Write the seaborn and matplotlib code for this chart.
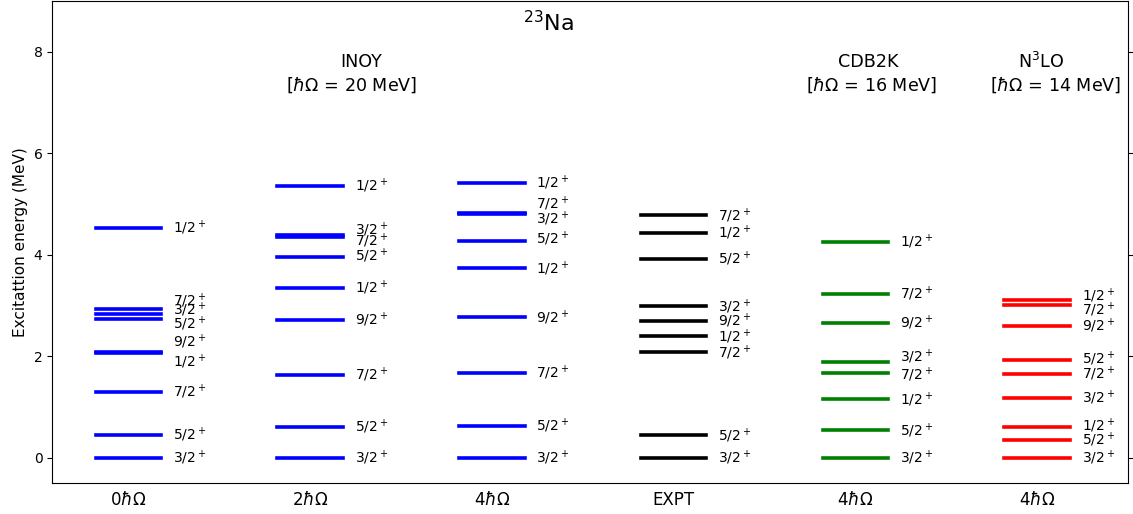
import matplotlib
matplotlib.use("Agg")
import matplotlib.pyplot as plt
import numpy as np
import pandas as pd
import seaborn as sns

# Column tick labels (bottom axis)
columns = [r"$0\hbar\Omega$", r"$2\hbar\Omega$", r"$4\hbar\Omega$", "EXPT",
           r"$4\hbar\Omega$", r"$4\hbar\Omega$"]
# Interaction used for each column (sets the colour)
interaction = ["INOY", "INOY", "INOY", "EXPT", "CDB2K", "N3LO"]

# Excitation energies (MeV) and spins for every column
e_inoy_0 = [0.00, 0.45, 1.29, 2.07, 2.08, 2.74, 2.83, 2.93, 4.53]
j_inoy_0 = ["3/2", "5/2", "7/2", "1/2", "9/2", "5/2", "3/2", "7/2", "1/2"]

e_inoy_2 = [0.00, 0.605, 1.635, 2.71, 3.35, 3.96, 4.36, 4.38, 5.36]
j_inoy_2 = ["3/2", "5/2", "7/2", "9/2", "1/2", "5/2", "7/2", "3/2", "1/2"]

e_inoy_4 = [0.00, 0.62, 1.68, 2.765, 3.73, 4.28, 4.81, 4.83, 5.42]
j_inoy_4 = ["3/2", "5/2", "7/2", "9/2", "1/2", "5/2", "3/2", "7/2", "1/2"]

e_expt = [0.000, 0.440, 2.076, 2.391, 2.704, 2.982, 3.914, 4.430, 4.775]
j_expt = ["3/2", "5/2", "7/2", "1/2", "9/2", "3/2", "5/2", "1/2", "7/2"]

e_cdb2k = [0.00, 0.54, 1.15, 1.68, 1.89, 2.65, 3.225, 4.256]
j_cdb2k = ["3/2", "5/2", "1/2", "7/2", "3/2", "9/2", "7/2", "1/2"]

e_n3lo = [0.00, 0.36, 0.605, 1.18, 1.65, 1.93, 2.60, 3.01, 3.107]
j_n3lo = ["3/2", "5/2", "1/2", "3/2", "7/2", "5/2", "9/2", "7/2", "1/2"]

# Vertical placement of the spin labels, spread apart where levels crowd
lab_inoy_0 = [0.00, 0.45, 1.29, 1.89, 2.28, 2.64, 2.91, 3.10, 4.53]
lab_inoy_2 = [0.00, 0.605, 1.635, 2.71, 3.35, 3.98, 4.28, 4.49, 5.36]
lab_inoy_4 = [0.00, 0.62, 1.68, 2.765, 3.73, 4.31, 4.70, 5.01, 5.42]
lab_expt = e_expt
lab_cdb2k = [0.00, 0.54, 1.15, 1.63, 1.99, 2.65, 3.225, 4.256]
lab_n3lo = [0.00, 0.36, 0.63, 1.18, 1.65, 1.94, 2.60, 2.91, 3.19]

energies = [e_inoy_0, e_inoy_2, e_inoy_4, e_expt, e_cdb2k, e_n3lo]
spins = [j_inoy_0, j_inoy_2, j_inoy_4, j_expt, j_cdb2k, j_n3lo]
label_pos = [lab_inoy_0, lab_inoy_2, lab_inoy_4, lab_expt, lab_cdb2k, lab_n3lo]

palette = {"INOY": "#0000ff", "EXPT": "#000000", "CDB2K": "#008000", "N3LO": "#ff0000"}

half_width = 0.18
rows = []
level_id = 0
for col, (elist, model) in enumerate(zip(energies, interaction)):
    for e in elist:
        for dx in (-half_width, half_width):
            rows.append({"x": col + dx, "energy": e, "model": model, "level": level_id})
        level_id += 1
df = pd.DataFrame(rows)

fig = plt.figure(figsize=(11.33, 5.14), dpi=100)
ax = fig.add_axes([0.046, 0.060, 0.9496, 0.938])

sns.lineplot(data=df, x="x", y="energy", hue="model", units="level",
             estimator=None, sort=False, palette=palette, linewidth=2.6,
             legend=False, ax=ax)

for col in range(len(columns)):
    for lab, y in zip(spins[col], label_pos[col]):
        ax.text(col + 0.245, y, f"${lab}^+$", fontsize=10, ha="left", va="center")

# Interaction headers
hdr = dict(fontsize=12.6, ha="center", va="center")
ax.text(1.28, 7.80, "INOY", **hdr)
ax.text(1.23, 7.34, r"[$\hbar\Omega$ = 20 MeV]", **hdr)
ax.text(4.07, 7.80, "CDB2K", **hdr)
ax.text(4.09, 7.34, r"[$\hbar\Omega$ = 16 MeV]", **hdr)
ax.text(5.02, 7.80, r"N$^3$LO", **hdr)
ax.text(5.10, 7.34, r"[$\hbar\Omega$ = 14 MeV]", **hdr)
ax.text(2.31, 8.57, r"$^{23}$Na", fontsize=16, ha="center", va="center")

ax.set_xlim(-0.42, 5.5)
ax.set_ylim(-0.5, 9)
ax.set_xticks(range(len(columns)))
ax.set_xticklabels(columns, fontsize=12)
ax.tick_params(axis="x", length=0, pad=6)
ax.set_yticks([0, 2, 4, 6, 8])
ax.tick_params(axis="y", right=True, labelsize=10)
ax.set_xlabel("")
ax.set_ylabel("Excitattion energy (MeV)", fontsize=11)

fig.savefig("out.png", dpi=100)
